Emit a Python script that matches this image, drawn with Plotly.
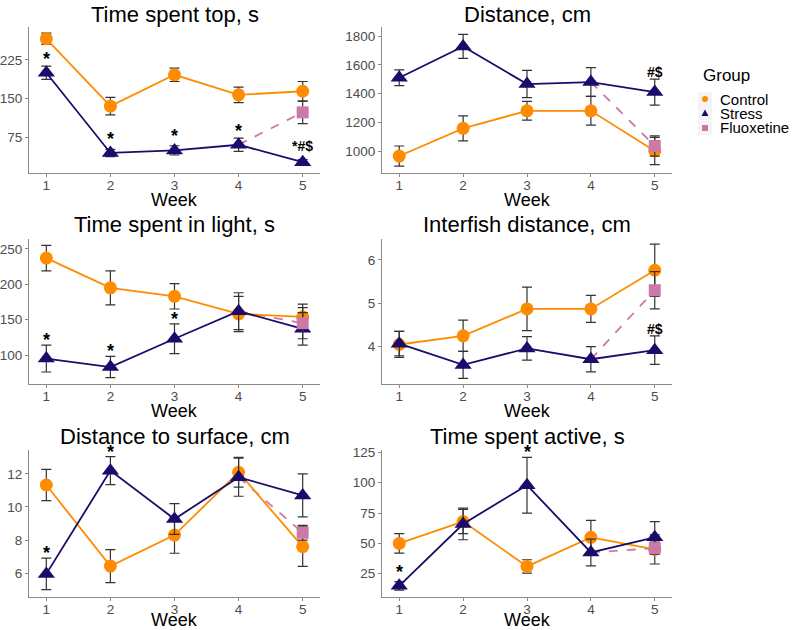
import plotly.graph_objects as go

weeks = [1, 2, 3, 4, 5]

titles = ["Time spent top, s", "Distance, cm", "Time spent in light, s",
          "Interfish distance, cm", "Distance to surface, cm", "Time spent active, s"]

# Panel 1: Time spent top
top_control = [266, 135, 196, 157, 164]
top_control_se = [11, 17, 13, 15, 19]
top_stress = [200, 44, 49, 60, 26]
top_stress_se = [13, 7, 9, 13, 5]
top_fluox = 123
top_fluox_se = 22
top_marks = ["*", "*", "*", "*", "*#$"]

# Panel 2: Distance
dist_control = [965, 1158, 1280, 1280, 1000]
dist_control_se = [70, 87, 65, 100, 95]
dist_stress = [1510, 1728, 1466, 1480, 1410]
dist_stress_se = [55, 83, 95, 100, 90]
dist_fluox = 1035
dist_fluox_se = 70
dist_marks = ["", "", "", "", "#$"]

# Panel 3: Time spent in light
light_control = [237, 195, 183, 158, 154]
light_control_se = [18, 24, 18, 25, 18]
light_stress = [95, 83, 123, 162, 137]
light_stress_se = [19, 15, 21, 26, 23]
light_fluox = 145
light_fluox_se = 22
light_marks = ["*", "*", "*", "", ""]

# Panel 4: Interfish distance
inter_control = [4.05, 4.25, 4.87, 4.87, 5.76]
inter_control_se = [0.30, 0.36, 0.50, 0.31, 0.60]
inter_stress = [4.07, 3.58, 3.96, 3.71, 3.92]
inter_stress_se = [0.28, 0.31, 0.27, 0.29, 0.33]
inter_fluox = 5.30
inter_fluox_se = 0.43
inter_marks = ["", "", "", "", "#$"]

# Panel 5: Distance to surface
surf_control = [11.33, 6.42, 8.30, 12.10, 7.60]
surf_control_se = [0.95, 1.00, 1.10, 0.90, 1.20]
surf_stress = [5.95, 12.20, 9.27, 11.80, 10.70]
surf_stress_se = [0.95, 0.85, 0.93, 1.15, 1.30]
surf_fluox = 8.44
surf_fluox_se = 0.45
surf_marks = ["*", "*", "", "", ""]

# Panel 6: Time spent active
act_control = [50, 68, 31, 55, 45]
act_control_se = [8, 10, 5.5, 14, 12]
act_stress = [15, 66, 98, 42.5, 55]
act_stress_se = [3.5, 13, 23, 11, 13]
act_fluox = 46
act_fluox_se = 5
act_marks = ["*", "", "*", "", ""]

y_ranges = [[5, 289], [847, 1863], [59, 264], [3.14, 6.48], [4.55, 13.45], [5.8, 127]]
y_ticks = [[75, 150, 225], [1000, 1200, 1400, 1600, 1800], [100, 150, 200, 250],
           [4, 5, 6], [6, 8, 10, 12], [25, 50, 75, 100, 125]]

panels = [
    (top_control, top_control_se, top_stress, top_stress_se, top_fluox, top_fluox_se, top_marks),
    (dist_control, dist_control_se, dist_stress, dist_stress_se, dist_fluox, dist_fluox_se, dist_marks),
    (light_control, light_control_se, light_stress, light_stress_se, light_fluox, light_fluox_se, light_marks),
    (inter_control, inter_control_se, inter_stress, inter_stress_se, inter_fluox, inter_fluox_se, inter_marks),
    (surf_control, surf_control_se, surf_stress, surf_stress_se, surf_fluox, surf_fluox_se, surf_marks),
    (act_control, act_control_se, act_stress, act_stress_se, act_fluox, act_fluox_se, act_marks),
]

W, H = 792, 630
C_ORANGE = "#FF8C00"
C_NAVY = "#1B0C6B"
C_PINK = "#CC79A7"
ERR_COL = "#333333"
FONT = "Liberation Sans, Arial, sans-serif"

col_px = [(29, 320), (382, 672)]
row_px = [(27, 173), (239, 384), (450, 597)]
title_y = [14, 224, 436]
week_y = [200, 411, 620]

fig = go.Figure()
layout = dict(width=W, height=H, margin=dict(l=0, r=0, t=0, b=0, autoexpand=False),
              plot_bgcolor="white", paper_bgcolor="white", showlegend=False,
              font=dict(family=FONT))
annotations = []
shapes = []


def err(arr):
    return dict(type="data", array=arr, visible=True, color=ERR_COL, thickness=1.2, width=5)


for i, (ctrl, ctrl_se, strs, strs_se, flx, flx_se, marks) in enumerate(panels):
    r, c = i // 2, i % 2
    idx = "" if i == 0 else str(i + 1)
    xa, ya = "x" + idx, "y" + idx
    x0, x1 = col_px[c]
    y0, y1 = row_px[r]
    lo, hi = y_ranges[i]
    axis_common = dict(showline=True, linecolor="#8a8a8a", linewidth=1.2, ticks="outside",
                       ticklen=3, tickcolor="#8a8a8a", showgrid=False, zeroline=False,
                       automargin=False,
                       tickfont=dict(size=13.5, color="#4d4d4d", family=FONT))
    layout["xaxis" + idx] = dict(domain=[x0 / W, x1 / W], range=[0.73, 5.27], anchor=ya,
                                 tickmode="array", tickvals=weeks, ticktext=[str(w) for w in weeks],
                                 ticklabelstandoff=-3, **axis_common)
    layout["yaxis" + idx] = dict(domain=[1 - y1 / H, 1 - y0 / H], range=y_ranges[i], anchor=xa,
                                 tickmode="array", tickvals=y_ticks[i], **axis_common)

    # Fluoxetine dashed segment (from week 4 Stress value to week 5 Fluoxetine value)
    fig.add_trace(go.Scatter(x=[weeks[3], weeks[4]], y=[strs[3], flx], mode="lines",
                             line=dict(color=C_PINK, width=1.8, dash="dash"),
                             xaxis=xa, yaxis=ya, hoverinfo="skip"))
    fig.add_trace(go.Scatter(x=weeks, y=ctrl, mode="lines+markers", name="Control",
                             line=dict(color=C_ORANGE, width=1.8),
                             marker=dict(symbol="circle", size=13, color=C_ORANGE),
                             error_y=err(ctrl_se), xaxis=xa, yaxis=ya))
    fig.add_trace(go.Scatter(x=weeks, y=strs, mode="lines+markers", name="Stress",
                             line=dict(color=C_NAVY, width=1.8),
                             marker=dict(symbol="triangle-up", size=15, color=C_NAVY),
                             error_y=err(strs_se), xaxis=xa, yaxis=ya))
    fig.add_trace(go.Scatter(x=[weeks[4]], y=[flx], mode="markers", name="Fluoxetine",
                             marker=dict(symbol="square", size=12, color=C_PINK),
                             error_y=err([flx_se]), xaxis=xa, yaxis=ya))

    # significance marks above the Stress error bar (or above the marker, whichever is higher)
    px_per_unit = (y1 - y0) / (hi - lo)
    for w, s, se, m in zip(weeks, strs, strs_se, marks):
        if m:
            base = max(s + se, s + 9 / px_per_unit)
            annotations.append(dict(x=w, y=base, xref=xa, yref=ya, text="<b>%s</b>" % m,
                                    showarrow=False, yanchor="bottom",
                                    yshift=-7 if m == "*" else -3,
                                    font=dict(size=18 if m == "*" else 14, color="black", family=FONT)))

    xc = (x0 + x1) / 2 / W
    annotations.append(dict(x=xc, y=1 - title_y[r] / H, xref="paper", yref="paper",
                            text=titles[i], showarrow=False, xanchor="center", yanchor="middle",
                            font=dict(size=22, color="black", family=FONT)))
    annotations.append(dict(x=xc, y=1 - week_y[r] / H, xref="paper", yref="paper",
                            text="Week", showarrow=False, xanchor="center", yanchor="middle",
                            font=dict(size=18, color="black", family=FONT)))

# Legend (drawn manually)
annotations.append(dict(x=701 / W, y=1 - 75 / H, xref="paper", yref="paper", text="Group",
                        showarrow=False, xanchor="left", yanchor="middle",
                        font=dict(size=17, color="black", family=FONT)))
leg_items = [("Control", 99), ("Stress", 113), ("Fluoxetine", 128)]
for name, py in leg_items:
    annotations.append(dict(x=718 / W, y=1 - py / H, xref="paper", yref="paper", text=name,
                            showarrow=False, xanchor="left", yanchor="middle",
                            font=dict(size=15, color="black", family=FONT)))
    shapes.append(dict(type="rect", xref="paper", yref="paper", x0=698 / W, x1=712 / W,
                       y0=1 - (py + 7) / H, y1=1 - (py - 7) / H,
                       fillcolor="#f4f4f4", line=dict(width=0), layer="below"))
cx = 705
# Control circle
shapes.append(dict(type="circle", xref="paper", yref="paper", x0=(cx - 3) / W, x1=(cx + 3) / W,
                   y0=1 - 102 / H, y1=1 - 96 / H, fillcolor=C_ORANGE, line=dict(width=0)))
# Stress triangle
ty = 113
shapes.append(dict(type="path", xref="paper", yref="paper",
                   path="M %f,%f L %f,%f L %f,%f Z" % ((cx - 3.5) / W, 1 - (ty + 3) / H,
                                                        (cx + 3.5) / W, 1 - (ty + 3) / H,
                                                        cx / W, 1 - (ty - 3.5) / H),
                   fillcolor=C_NAVY, line=dict(width=0)))
# Fluoxetine square
shapes.append(dict(type="rect", xref="paper", yref="paper", x0=(cx - 3) / W, x1=(cx + 3) / W,
                   y0=1 - 131 / H, y1=1 - 125 / H, fillcolor=C_PINK, line=dict(width=0)))

layout["annotations"] = annotations
layout["shapes"] = shapes
fig.update_layout(**layout)
fig.write_html("out.html", config={"displayModeBar": False},
               post_script="document.body.style.margin='0px';document.body.style.padding='0px';")
